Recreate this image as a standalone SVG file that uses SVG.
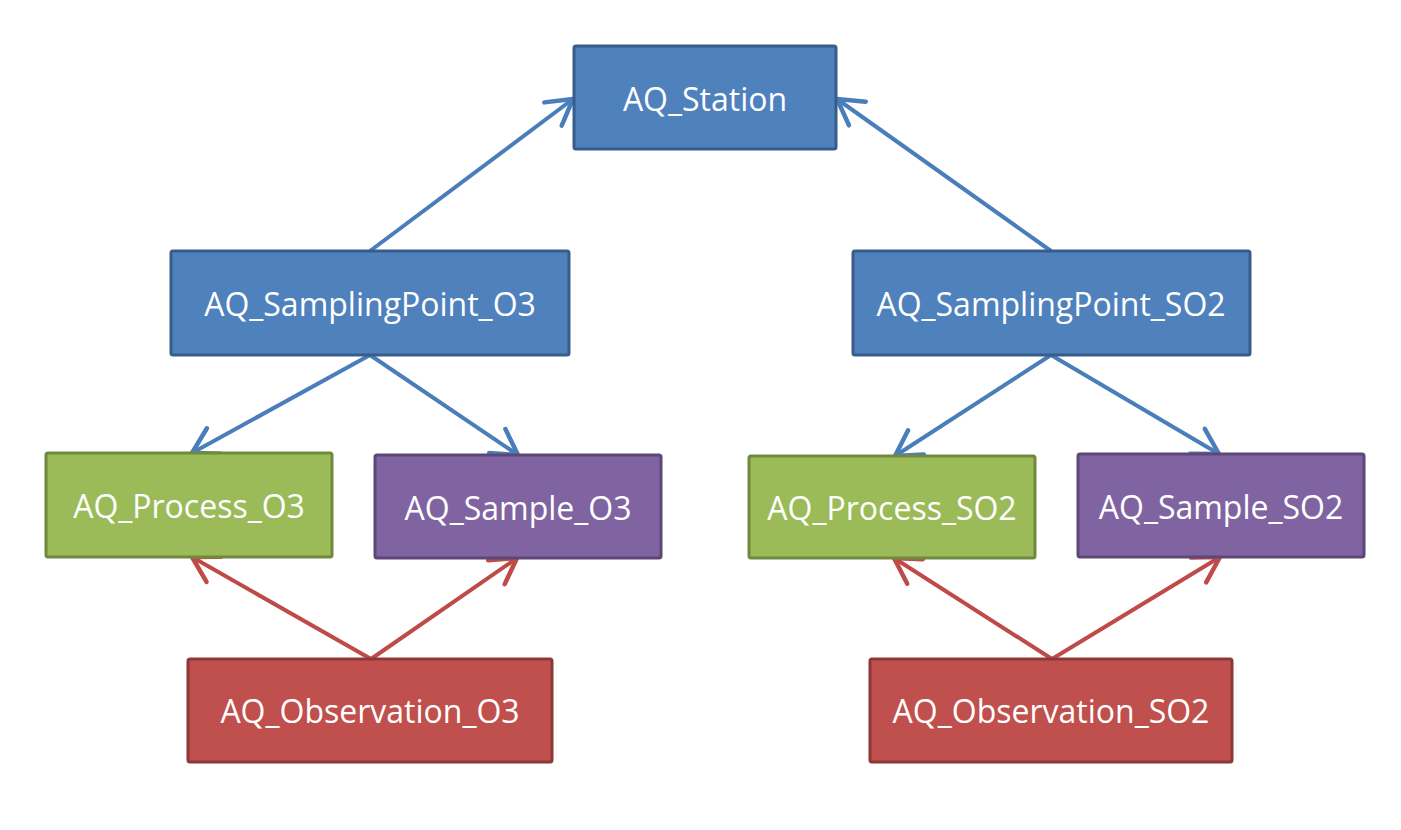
<svg xmlns="http://www.w3.org/2000/svg" width="1401" height="830" viewBox="0 0 1401 830">
<style>
  .box { stroke-width: 3; }
  .blue { fill: #4F81BD; stroke: #385D8A; }
  .green { fill: #9BBB59; stroke: #71893F; }
  .purple { fill: #8064A2; stroke: #5C4776; }
  .red { fill: #C0504D; stroke: #8C3836; }
  .lbl { font-family: "Open Sans", "Liberation Sans", sans-serif; font-size: 32px; fill: #FFFFFF; text-anchor: middle; }
  .cb { stroke: #4A7EBB; stroke-width: 4; fill: none; marker-end: url(#ab); }
  .cr { stroke: #BE4B48; stroke-width: 4; fill: none; marker-end: url(#ar); }
</style>
<defs>
  <marker id="ab" markerUnits="userSpaceOnUse" markerWidth="40" markerHeight="40" viewBox="-30 -20 40 40" refX="0" refY="0" orient="auto" overflow="visible">
    <path d="M -25 -14.5 L 0 0 L -25 14.5" fill="none" stroke="#4A7EBB" stroke-width="4.5" stroke-linecap="round" stroke-linejoin="round"/>
  </marker>
  <marker id="ar" markerUnits="userSpaceOnUse" markerWidth="40" markerHeight="40" viewBox="-30 -20 40 40" refX="0" refY="0" orient="auto" overflow="visible">
    <path d="M -25 -14.5 L 0 0 L -25 14.5" fill="none" stroke="#BE4B48" stroke-width="4.5" stroke-linecap="round" stroke-linejoin="round"/>
  </marker>
</defs>
<rect width="1401" height="830" fill="#FFFFFF"/>
<g id="connectors">
  <line class="cb" x1="370" y1="251" x2="573" y2="99"/>
  <line class="cb" x1="1051" y1="251" x2="837" y2="99"/>
  <line class="cb" x1="370" y1="355" x2="192" y2="453"/>
  <line class="cb" x1="370" y1="355" x2="518" y2="455"/>
  <line class="cb" x1="1051" y1="355" x2="895" y2="456"/>
  <line class="cb" x1="1051" y1="355" x2="1219" y2="454"/>
  <line class="cr" x1="371" y1="659" x2="192" y2="557"/>
  <line class="cr" x1="371" y1="659" x2="517" y2="558"/>
  <line class="cr" x1="1052" y1="659" x2="894" y2="558"/>
  <line class="cr" x1="1052" y1="659" x2="1220" y2="557"/>
</g>
<g id="station">
  <rect class="box blue" x="574" y="46" width="262" height="103" rx="2"/>
  <text class="lbl" x="705" y="111">AQ_Station</text>
</g>
<g id="samplingpoint-o3">
  <rect class="box blue" x="171" y="251" width="398" height="104" rx="2"/>
  <text class="lbl" x="370" y="316">AQ_SamplingPoint_O3</text>
</g>
<g id="samplingpoint-so2">
  <rect class="box blue" x="853" y="251" width="397" height="104" rx="2"/>
  <text class="lbl" x="1051" y="316">AQ_SamplingPoint_SO2</text>
</g>
<g id="process-o3">
  <rect class="box green" x="46" y="453" width="286" height="104" rx="2"/>
  <text class="lbl" x="189" y="518">AQ_Process_O3</text>
</g>
<g id="sample-o3">
  <rect class="box purple" x="375" y="455" width="286" height="103" rx="2"/>
  <text class="lbl" x="518" y="520">AQ_Sample_O3</text>
</g>
<g id="process-so2">
  <rect class="box green" x="749" y="456" width="286" height="102" rx="2"/>
  <text class="lbl" x="892" y="520">AQ_Process_SO2</text>
</g>
<g id="sample-so2">
  <rect class="box purple" x="1078" y="454" width="286" height="103" rx="2"/>
  <text class="lbl" x="1221" y="519">AQ_Sample_SO2</text>
</g>
<g id="observation-o3">
  <rect class="box red" x="188" y="659" width="364" height="103" rx="2"/>
  <text class="lbl" x="370" y="723">AQ_Observation_O3</text>
</g>
<g id="observation-so2">
  <rect class="box red" x="870" y="659" width="362" height="103" rx="2"/>
  <text class="lbl" x="1051" y="723">AQ_Observation_SO2</text>
</g>
</svg>
